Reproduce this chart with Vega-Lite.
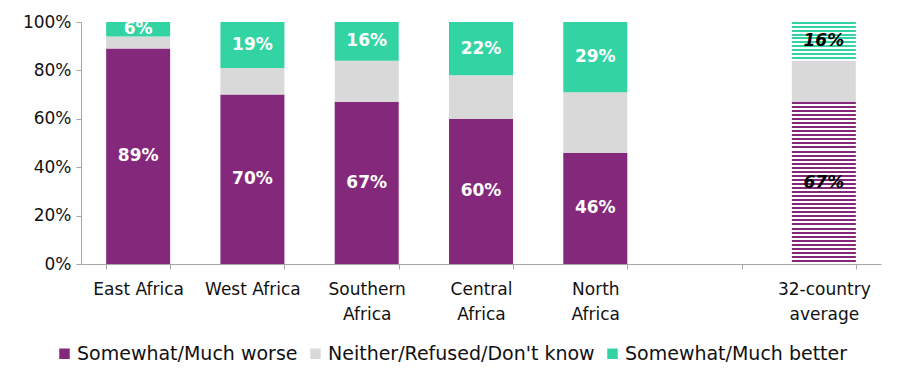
{
  "$schema": "https://vega.github.io/schema/vega-lite/v6.json",
  "width": 800,
  "height": 242,
  "autosize": {"type": "none"},
  "padding": {"left": 81, "top": 22, "right": 21, "bottom": 122},
  "background": "white",
  "data": {
    "values": [
      {"region": "East Africa", "resp": "Somewhat/Much worse", "ord": 1, "pct": 89},
      {"region": "East Africa", "resp": "Neither/Refused/Don't know", "ord": 2, "pct": 5},
      {"region": "East Africa", "resp": "Somewhat/Much better", "ord": 3, "pct": 6},
      {"region": "West Africa", "resp": "Somewhat/Much worse", "ord": 1, "pct": 70},
      {"region": "West Africa", "resp": "Neither/Refused/Don't know", "ord": 2, "pct": 11},
      {"region": "West Africa", "resp": "Somewhat/Much better", "ord": 3, "pct": 19},
      {"region": "Southern Africa", "resp": "Somewhat/Much worse", "ord": 1, "pct": 67},
      {"region": "Southern Africa", "resp": "Neither/Refused/Don't know", "ord": 2, "pct": 17},
      {"region": "Southern Africa", "resp": "Somewhat/Much better", "ord": 3, "pct": 16},
      {"region": "Central Africa", "resp": "Somewhat/Much worse", "ord": 1, "pct": 60},
      {"region": "Central Africa", "resp": "Neither/Refused/Don't know", "ord": 2, "pct": 18},
      {"region": "Central Africa", "resp": "Somewhat/Much better", "ord": 3, "pct": 22},
      {"region": "North Africa", "resp": "Somewhat/Much worse", "ord": 1, "pct": 46},
      {"region": "North Africa", "resp": "Neither/Refused/Don't know", "ord": 2, "pct": 25},
      {"region": "North Africa", "resp": "Somewhat/Much better", "ord": 3, "pct": 29},
      {"region": "32-country average", "resp": "Somewhat/Much worse", "ord": 1, "pct": 67},
      {"region": "32-country average", "resp": "Neither/Refused/Don't know", "ord": 2, "pct": 17},
      {"region": "32-country average", "resp": "Somewhat/Much better", "ord": 3, "pct": 16}
    ]
  },
  "transform": [
    {"stack": "pct", "groupby": ["region"], "sort": [{"field": "ord", "order": "ascending"}], "as": ["y0", "y1"]},
    {"calculate": "(datum.y0 + datum.y1) / 2", "as": "mid"},
    {"calculate": "datum.pct + '%'", "as": "lbl"}
  ],
  "encoding": {
    "x": {
      "field": "region",
      "type": "nominal",
      "sort": null,
      "scale": {
        "domain": ["East Africa", "West Africa", "Southern Africa", "Central Africa", "North Africa", "gap", "32-country average"],
        "paddingInner": 0.44,
        "paddingOuter": 0.22
      },
      "axis": {
        "title": null,
        "labelAngle": 0,
        "tickBand": "extent",
        "labelExpr": "(!isValid(datum.value) || datum.value == 'gap') ? '' : (datum.value == 'East Africa' || datum.value == 'West Africa') ? datum.value : split(datum.value, ' ')",
        "labelPadding": 12,
        "labelLineHeight": 25
      }
    },
    "y": {
      "field": "y0",
      "type": "quantitative",
      "scale": {"domain": [0, 100], "nice": false},
      "axis": {"title": null, "values": [0, 20, 40, 60, 80, 100], "labelExpr": "datum.value + '%'", "labelPadding": 5}
    },
    "y2": {"field": "y1"}
  },
  "layer": [
    {
      "transform": [{"filter": "datum.region != '32-country average'"}],
      "mark": {"type": "bar"},
      "encoding": {
        "color": {
          "field": "resp",
          "type": "nominal",
          "scale": {
            "domain": ["Somewhat/Much worse", "Neither/Refused/Don't know", "Somewhat/Much better"],
            "range": ["#84287C", "#D9D9D9", "#33D4A4"]
          },
          "legend": {
            "title": null,
            "orient": "none",
            "legendX": -26,
            "legendY": 322,
            "direction": "horizontal",
            "symbolType": "square",
            "symbolSize": 110,
            "symbolStrokeWidth": 0,
            "labelFontSize": 19,
            "labelColor": "#111111",
            "labelFont": "DejaVu Sans",
            "labelOffset": 3,
            "columnPadding": 8,
            "symbolOffset": 0,
            "labelLimit": 400
          }
        }
      }
    },
    {
      "transform": [{"filter": "datum.region == '32-country average' && datum.ord == 1"}],
      "mark": {
        "type": "bar",
        "fill": {
          "gradient": "linear", "x1": 0, "y1": 0, "x2": 0, "y2": 1,
          "stops": [
            {"offset": 0.0, "color": "#84287C"}, {"offset": 0.0125, "color": "#84287C"}, {"offset": 0.0125, "color": "#ffffff"}, {"offset": 0.025, "color": "#ffffff"},
            {"offset": 0.025, "color": "#84287C"}, {"offset": 0.0375, "color": "#84287C"}, {"offset": 0.0375, "color": "#ffffff"}, {"offset": 0.05, "color": "#ffffff"},
            {"offset": 0.05, "color": "#84287C"}, {"offset": 0.0625, "color": "#84287C"}, {"offset": 0.0625, "color": "#ffffff"}, {"offset": 0.075, "color": "#ffffff"},
            {"offset": 0.075, "color": "#84287C"}, {"offset": 0.0875, "color": "#84287C"}, {"offset": 0.0875, "color": "#ffffff"}, {"offset": 0.1, "color": "#ffffff"},
            {"offset": 0.1, "color": "#84287C"}, {"offset": 0.1125, "color": "#84287C"}, {"offset": 0.1125, "color": "#ffffff"}, {"offset": 0.125, "color": "#ffffff"},
            {"offset": 0.125, "color": "#84287C"}, {"offset": 0.1375, "color": "#84287C"}, {"offset": 0.1375, "color": "#ffffff"}, {"offset": 0.15, "color": "#ffffff"},
            {"offset": 0.15, "color": "#84287C"}, {"offset": 0.1625, "color": "#84287C"}, {"offset": 0.1625, "color": "#ffffff"}, {"offset": 0.175, "color": "#ffffff"},
            {"offset": 0.175, "color": "#84287C"}, {"offset": 0.1875, "color": "#84287C"}, {"offset": 0.1875, "color": "#ffffff"}, {"offset": 0.2, "color": "#ffffff"},
            {"offset": 0.2, "color": "#84287C"}, {"offset": 0.2125, "color": "#84287C"}, {"offset": 0.2125, "color": "#ffffff"}, {"offset": 0.225, "color": "#ffffff"},
            {"offset": 0.225, "color": "#84287C"}, {"offset": 0.2375, "color": "#84287C"}, {"offset": 0.2375, "color": "#ffffff"}, {"offset": 0.25, "color": "#ffffff"},
            {"offset": 0.25, "color": "#84287C"}, {"offset": 0.2625, "color": "#84287C"}, {"offset": 0.2625, "color": "#ffffff"}, {"offset": 0.275, "color": "#ffffff"},
            {"offset": 0.275, "color": "#84287C"}, {"offset": 0.2875, "color": "#84287C"}, {"offset": 0.2875, "color": "#ffffff"}, {"offset": 0.3, "color": "#ffffff"},
            {"offset": 0.3, "color": "#84287C"}, {"offset": 0.3125, "color": "#84287C"}, {"offset": 0.3125, "color": "#ffffff"}, {"offset": 0.325, "color": "#ffffff"},
            {"offset": 0.325, "color": "#84287C"}, {"offset": 0.3375, "color": "#84287C"}, {"offset": 0.3375, "color": "#ffffff"}, {"offset": 0.35, "color": "#ffffff"},
            {"offset": 0.35, "color": "#84287C"}, {"offset": 0.3625, "color": "#84287C"}, {"offset": 0.3625, "color": "#ffffff"}, {"offset": 0.375, "color": "#ffffff"},
            {"offset": 0.375, "color": "#84287C"}, {"offset": 0.3875, "color": "#84287C"}, {"offset": 0.3875, "color": "#ffffff"}, {"offset": 0.4, "color": "#ffffff"},
            {"offset": 0.4, "color": "#84287C"}, {"offset": 0.4125, "color": "#84287C"}, {"offset": 0.4125, "color": "#ffffff"}, {"offset": 0.425, "color": "#ffffff"},
            {"offset": 0.425, "color": "#84287C"}, {"offset": 0.4375, "color": "#84287C"}, {"offset": 0.4375, "color": "#ffffff"}, {"offset": 0.45, "color": "#ffffff"},
            {"offset": 0.45, "color": "#84287C"}, {"offset": 0.4625, "color": "#84287C"}, {"offset": 0.4625, "color": "#ffffff"}, {"offset": 0.475, "color": "#ffffff"},
            {"offset": 0.475, "color": "#84287C"}, {"offset": 0.4875, "color": "#84287C"}, {"offset": 0.4875, "color": "#ffffff"}, {"offset": 0.5, "color": "#ffffff"},
            {"offset": 0.5, "color": "#84287C"}, {"offset": 0.5125, "color": "#84287C"}, {"offset": 0.5125, "color": "#ffffff"}, {"offset": 0.525, "color": "#ffffff"},
            {"offset": 0.525, "color": "#84287C"}, {"offset": 0.5375, "color": "#84287C"}, {"offset": 0.5375, "color": "#ffffff"}, {"offset": 0.55, "color": "#ffffff"},
            {"offset": 0.55, "color": "#84287C"}, {"offset": 0.5625, "color": "#84287C"}, {"offset": 0.5625, "color": "#ffffff"}, {"offset": 0.575, "color": "#ffffff"},
            {"offset": 0.575, "color": "#84287C"}, {"offset": 0.5875, "color": "#84287C"}, {"offset": 0.5875, "color": "#ffffff"}, {"offset": 0.6, "color": "#ffffff"},
            {"offset": 0.6, "color": "#84287C"}, {"offset": 0.6125, "color": "#84287C"}, {"offset": 0.6125, "color": "#ffffff"}, {"offset": 0.625, "color": "#ffffff"},
            {"offset": 0.625, "color": "#84287C"}, {"offset": 0.6375, "color": "#84287C"}, {"offset": 0.6375, "color": "#ffffff"}, {"offset": 0.65, "color": "#ffffff"},
            {"offset": 0.65, "color": "#84287C"}, {"offset": 0.6625, "color": "#84287C"}, {"offset": 0.6625, "color": "#ffffff"}, {"offset": 0.675, "color": "#ffffff"},
            {"offset": 0.675, "color": "#84287C"}, {"offset": 0.6875, "color": "#84287C"}, {"offset": 0.6875, "color": "#ffffff"}, {"offset": 0.7, "color": "#ffffff"},
            {"offset": 0.7, "color": "#84287C"}, {"offset": 0.7125, "color": "#84287C"}, {"offset": 0.7125, "color": "#ffffff"}, {"offset": 0.725, "color": "#ffffff"},
            {"offset": 0.725, "color": "#84287C"}, {"offset": 0.7375, "color": "#84287C"}, {"offset": 0.7375, "color": "#ffffff"}, {"offset": 0.75, "color": "#ffffff"},
            {"offset": 0.75, "color": "#84287C"}, {"offset": 0.7625, "color": "#84287C"}, {"offset": 0.7625, "color": "#ffffff"}, {"offset": 0.775, "color": "#ffffff"},
            {"offset": 0.775, "color": "#84287C"}, {"offset": 0.7875, "color": "#84287C"}, {"offset": 0.7875, "color": "#ffffff"}, {"offset": 0.8, "color": "#ffffff"},
            {"offset": 0.8, "color": "#84287C"}, {"offset": 0.8125, "color": "#84287C"}, {"offset": 0.8125, "color": "#ffffff"}, {"offset": 0.825, "color": "#ffffff"},
            {"offset": 0.825, "color": "#84287C"}, {"offset": 0.8375, "color": "#84287C"}, {"offset": 0.8375, "color": "#ffffff"}, {"offset": 0.85, "color": "#ffffff"},
            {"offset": 0.85, "color": "#84287C"}, {"offset": 0.8625, "color": "#84287C"}, {"offset": 0.8625, "color": "#ffffff"}, {"offset": 0.875, "color": "#ffffff"},
            {"offset": 0.875, "color": "#84287C"}, {"offset": 0.8875, "color": "#84287C"}, {"offset": 0.8875, "color": "#ffffff"}, {"offset": 0.9, "color": "#ffffff"},
            {"offset": 0.9, "color": "#84287C"}, {"offset": 0.9125, "color": "#84287C"}, {"offset": 0.9125, "color": "#ffffff"}, {"offset": 0.925, "color": "#ffffff"},
            {"offset": 0.925, "color": "#84287C"}, {"offset": 0.9375, "color": "#84287C"}, {"offset": 0.9375, "color": "#ffffff"}, {"offset": 0.95, "color": "#ffffff"},
            {"offset": 0.95, "color": "#84287C"}, {"offset": 0.9625, "color": "#84287C"}, {"offset": 0.9625, "color": "#ffffff"}, {"offset": 0.975, "color": "#ffffff"},
            {"offset": 0.975, "color": "#84287C"}, {"offset": 0.9875, "color": "#84287C"}, {"offset": 0.9875, "color": "#ffffff"}, {"offset": 1.0, "color": "#ffffff"}
          ]
        }
      },
      "encoding": {}
    },
    {
      "transform": [{"filter": "datum.region == '32-country average' && datum.ord == 2"}],
      "mark": {"type": "bar", "fill": "#D9D9D9"},
      "encoding": {}
    },
    {
      "transform": [{"filter": "datum.region == '32-country average' && datum.ord == 3"}],
      "mark": {
        "type": "bar",
        "fill": {
          "gradient": "linear", "x1": 0, "y1": 0, "x2": 0, "y2": 1,
          "stops": [
            {"offset": 0.0, "color": "#33D4A4"}, {"offset": 0.05, "color": "#33D4A4"}, {"offset": 0.05, "color": "#ffffff"}, {"offset": 0.1, "color": "#ffffff"},
            {"offset": 0.1, "color": "#33D4A4"}, {"offset": 0.15, "color": "#33D4A4"}, {"offset": 0.15, "color": "#ffffff"}, {"offset": 0.2, "color": "#ffffff"},
            {"offset": 0.2, "color": "#33D4A4"}, {"offset": 0.25, "color": "#33D4A4"}, {"offset": 0.25, "color": "#ffffff"}, {"offset": 0.3, "color": "#ffffff"},
            {"offset": 0.3, "color": "#33D4A4"}, {"offset": 0.35, "color": "#33D4A4"}, {"offset": 0.35, "color": "#ffffff"}, {"offset": 0.4, "color": "#ffffff"},
            {"offset": 0.4, "color": "#33D4A4"}, {"offset": 0.45, "color": "#33D4A4"}, {"offset": 0.45, "color": "#ffffff"}, {"offset": 0.5, "color": "#ffffff"},
            {"offset": 0.5, "color": "#33D4A4"}, {"offset": 0.55, "color": "#33D4A4"}, {"offset": 0.55, "color": "#ffffff"}, {"offset": 0.6, "color": "#ffffff"},
            {"offset": 0.6, "color": "#33D4A4"}, {"offset": 0.65, "color": "#33D4A4"}, {"offset": 0.65, "color": "#ffffff"}, {"offset": 0.7, "color": "#ffffff"},
            {"offset": 0.7, "color": "#33D4A4"}, {"offset": 0.75, "color": "#33D4A4"}, {"offset": 0.75, "color": "#ffffff"}, {"offset": 0.8, "color": "#ffffff"},
            {"offset": 0.8, "color": "#33D4A4"}, {"offset": 0.85, "color": "#33D4A4"}, {"offset": 0.85, "color": "#ffffff"}, {"offset": 0.9, "color": "#ffffff"},
            {"offset": 0.9, "color": "#33D4A4"}, {"offset": 0.95, "color": "#33D4A4"}, {"offset": 0.95, "color": "#ffffff"}, {"offset": 1.0, "color": "#ffffff"}
          ]
        }
      },
      "encoding": {}
    },
    {
      "transform": [{"filter": "datum.ord != 2 && datum.region != '32-country average'"}],
      "mark": {"type": "text", "color": "white", "fontWeight": "bold", "fontSize": 17, "font": "DejaVu Sans"},
      "encoding": {
        "y": {"field": "mid", "type": "quantitative"},
        "y2": null,
        "text": {"field": "lbl"}
      }
    },
    {
      "transform": [{"filter": "datum.ord != 2 && datum.region == '32-country average'"}],
      "mark": {"type": "text", "color": "black", "fontWeight": "bold", "fontStyle": "italic", "fontSize": 17, "font": "DejaVu Sans"},
      "encoding": {
        "y": {"field": "mid", "type": "quantitative"},
        "y2": null,
        "text": {"field": "lbl"}
      }
    }
  ],
  "config": {
    "view": {"stroke": null},
    "font": "DejaVu Sans",
    "axis": {
      "domainColor": "#A6A6A6",
      "tickColor": "#A6A6A6",
      "tickSize": 5,
      "labelFontSize": 17,
      "labelColor": "#111111",
      "labelFont": "DejaVu Sans",
      "grid": false
    }
  }
}
